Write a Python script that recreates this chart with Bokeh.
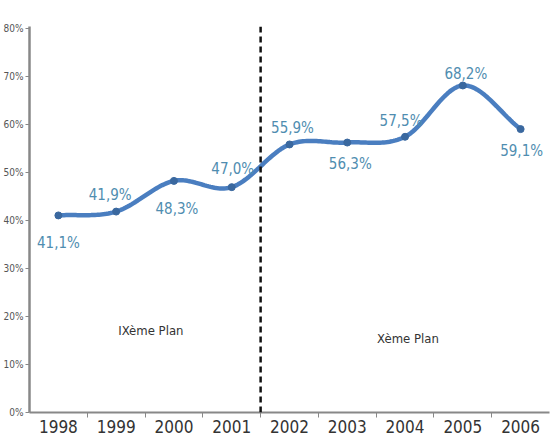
import numpy as np
from bokeh.plotting import figure
from bokeh.models import FixedTicker, Span, ColumnDataSource, Range1d, Label
from bokeh.core.properties import value
from bokeh.embed import file_html
from bokeh.resources import INLINE

years = ["1998", "1999", "2000", "2001", "2002", "2003", "2004", "2005", "2006"]
rates = [41.1, 41.9, 48.3, 47.0, 55.9, 56.3, 57.5, 68.2, 59.1]
rate_labels = ["41,1%", "41,9%", "48,3%", "47,0%", "55,9%", "56,3%", "57,5%", "68,2%", "59,1%"]
y_ticks = [0, 10, 20, 30, 40, 50, 60, 70, 80]
y_tick_labels = ["0%", "10%", "20%", "30%", "40%", "50%", "60%", "70%", "80%"]
plan_names = ["IXème Plan", "Xème Plan"]
plan_break = "2001"

# label placement (pixel offsets from each point)
lab_dx = [0, -6, 3, 1, 3, 3, -4, 3, 1]
lab_dy = [-28, 17, -28, 18, 16, -21, 16, 11, -22]

FONT = "'Liberation Sans Narrow', 'DejaVu Sans Condensed', 'Roboto Condensed', 'Roboto', sans-serif"

xs = np.arange(len(years)) + 0.5
ys = np.array(rates, dtype=float)

# smooth curve (cubic Hermite / Catmull-Rom through the data points)
n = len(ys)
m = np.zeros(n)
m[1:-1] = (ys[2:] - ys[:-2]) / 2.0
m[0] = ys[1] - ys[0]
m[-1] = ys[-1] - ys[-2]
cx, cy = [], []
for i in range(n - 1):
    t = np.linspace(0, 1, 30, endpoint=(i == n - 2))
    h00 = 2 * t**3 - 3 * t**2 + 1
    h10 = t**3 - 2 * t**2 + t
    h01 = -2 * t**3 + 3 * t**2
    h11 = t**3 - t**2
    cy.extend(h00 * ys[i] + h10 * m[i] + h01 * ys[i + 1] + h11 * m[i + 1])
    cx.extend(xs[i] + t)

p = figure(width=552, height=435, output_backend="svg", toolbar_location=None,
           x_range=Range1d(0, len(years)), y_range=Range1d(0, 80.5),
           min_border_left=4, min_border_right=3, min_border_top=26, min_border_bottom=20)
p.outline_line_color = None
p.xgrid.visible = False
p.ygrid.visible = False
p.background_fill_color = "white"

p.line(cx, cy, line_color="#4a7ec0", line_width=4.5, line_cap="round")
p.scatter(xs, ys, size=7, color="#3a689f")

lsrc = ColumnDataSource(dict(x=xs, y=ys, text=rate_labels, xo=lab_dx,
                             yo=[-d for d in lab_dy]))
p.text(x="x", y="y", text="text", x_offset="xo", y_offset="yo", source=lsrc,
       text_align="center", text_baseline="middle", text_color="#4f8db0",
       text_font=value(FONT), text_font_size="15px")

# plan divider
brk = years.index(plan_break) + 1
p.add_layout(Span(location=brk, dimension="height", line_color="#111111",
                  line_width=2.5, line_dash="6 4"))

p.add_layout(Label(x=2.1, y=17.2, text=plan_names[0], text_align="center",
                   text_baseline="middle", text_color="#333333", text_font=FONT,
                   text_font_size="13px"))
p.add_layout(Label(x=6.55, y=15.4, text=plan_names[1], text_align="center",
                   text_baseline="middle", text_color="#333333",
                   text_font=FONT, text_font_size="13px"))

# axes
p.xaxis.ticker = FixedTicker(ticks=list(xs), minor_ticks=list(range(1, len(years))))
p.xaxis.major_label_overrides = {float(x): y for x, y in zip(xs, years)}
p.xaxis.major_tick_out = 0
p.xaxis.major_tick_in = 0
p.xaxis.minor_tick_out = 5
p.xaxis.minor_tick_in = 0
p.xaxis.minor_tick_line_color = "#888888"
p.xaxis.axis_line_color = "#888888"
p.xaxis.axis_line_width = 2
p.xaxis.major_label_text_font = FONT
p.xaxis.major_label_text_font_size = "17px"
p.xaxis.major_label_text_color = "#333333"
p.xaxis.major_label_standoff = 2
p.xaxis.axis_label_standoff = 0

p.yaxis.ticker = FixedTicker(ticks=y_ticks)
p.yaxis.major_label_overrides = {t: s for t, s in zip(y_ticks, y_tick_labels)}
p.yaxis.major_label_text_font = FONT
p.yaxis.major_label_text_font_size = "10px"
p.yaxis.major_label_text_color = "#555555"
p.yaxis.major_label_standoff = 2
p.yaxis.axis_label_standoff = 0
p.yaxis.major_tick_out = 4
p.yaxis.major_tick_in = 0
p.yaxis.minor_tick_line_color = None
p.yaxis.major_tick_line_color = "#888888"
p.yaxis.axis_line_color = "#888888"
p.yaxis.axis_line_width = 2.5

open("out.html", "w").write(file_html(p, INLINE))
